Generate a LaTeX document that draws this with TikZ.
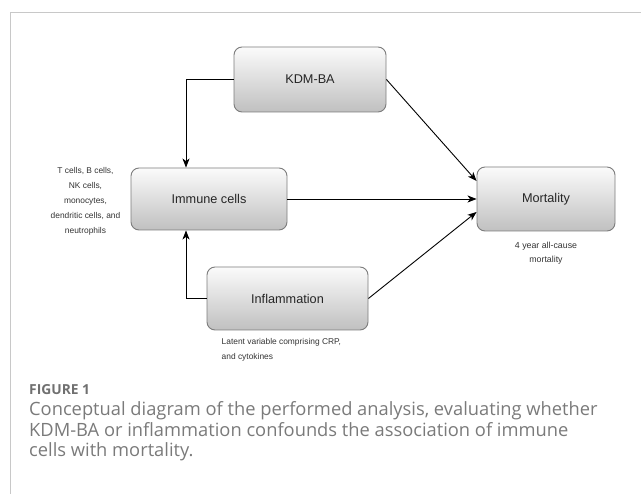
\documentclass[tikz,border=0pt]{standalone}
\usepackage{fontspec}
\setmainfont{Liberation Sans}
\newfontfamily\capfont{Open Sans}
\usetikzlibrary{arrows.meta,shadings}
\definecolor{framegray}{HTML}{C8C8C8}
\definecolor{boxedge}{HTML}{7C7C7C}
\definecolor{boxbot}{HTML}{C0C0C0}
\definecolor{boxtop}{HTML}{FBFBFB}
\definecolor{labeltext}{HTML}{333333}
\definecolor{captext}{HTML}{7A7A7A}
\definecolor{capheadtext}{HTML}{707070}
\tikzset{
  varbox/.style={draw=boxedge, line width=0.9pt, rounded corners=8pt,
    top color=boxtop, bottom color=boxbot, inner sep=0pt,
    font=\fontsize{12.7}{14}\selectfont, text=black!85},
  note/.style={font=\fontsize{8.4}{15}\selectfont, text=labeltext, inner sep=0pt},
  link/.style={draw=black, line width=0.9pt,
    -{Stealth[length=9pt,width=7pt,inset=2.5pt]}},
  framerule/.style={draw=framegray, line width=1pt}
}
\begin{document}
\begin{tikzpicture}[x=1pt,y=-1pt]
\useasboundingbox (0,0) rectangle (641,494);
% frame
\coordinate (ftr) at (641,13);
\coordinate (ftl) at (10,13);
\coordinate (fbl) at (10,494);
\draw[framerule] (ftr) -- (ftl) -- (fbl);
% boxes
\node[varbox, minimum width=152pt, minimum height=65pt] (kdm) at (310,79.5) {KDM-BA};
\node[varbox, minimum width=156pt, minimum height=62pt] (imm) at (209,199) {Immune cells};
\node[varbox, minimum width=138pt, minimum height=64pt] (mort) at (546,199) {Mortality};
\node[varbox, minimum width=161pt, minimum height=63pt] (infl) at (287.5,298.5) {Inflammation};
% connectors
\draw[link] (kdm.west) -| ([xshift=-23pt]imm.north);
\draw[link] (kdm.east) -- ([yshift=18pt]mort.west);
\draw[link] (imm.east) -- (mort.west);
\draw[link] (infl.east) -- ([yshift=-13pt]mort.west);
\draw[link] (infl.west) -| ([xshift=-23pt]imm.south);
% labels
\node[note, align=center] (immnote) at (85.5,201) {T cells, B cells,\\NK cells,\\monocytes,\\dendritic cells, and\\neutrophils};
\node[note, align=center, font=\fontsize{8.8}{14.5}\selectfont] (mortnote) at (546,253) {4 year all-cause\\mortality};
\node[note, align=left, anchor=west] (inflnote) at (221.5,349.5) {Latent variable comprising CRP,\\and cytokines};
% caption
\node[inner sep=0pt, anchor=base west, text=capheadtext, font=\capfont\bfseries\fontsize{13.8}{16}\selectfont] (fighead) at (29,394.5) {FIGURE 1};
\node[inner sep=0pt, anchor=north west, align=left, text=captext, font=\capfont\fontsize{18.3}{20.3}\selectfont] (figcap) at (29,401.5) {Conceptual diagram of the performed analysis, evaluating whether\\KDM-BA or inflammation confounds the association of immune\\cells with mortality.};
\end{tikzpicture}
\end{document}
